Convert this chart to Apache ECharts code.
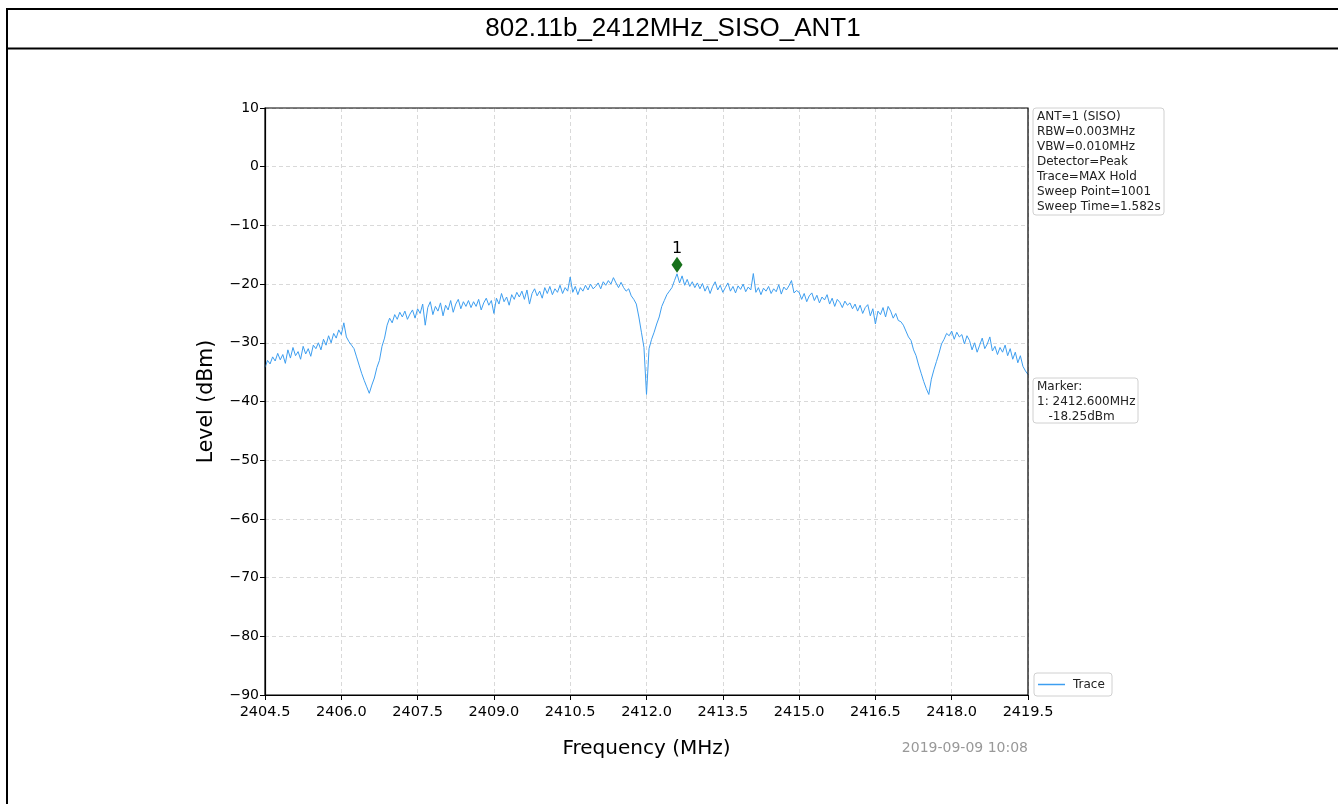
<!DOCTYPE html>
<html>
<head>
<meta charset="utf-8">
<script src="https://cdn.jsdelivr.net/npm/echarts@6/dist/echarts.min.js"></script>
<style>
html,body{margin:0;padding:0;background:#fff;}
#chart{width:1338px;height:804px;}
</style>
</head>
<body>
<div id="chart"></div>
<script>
const chartTitle = "802.11b_2412MHz_SISO_ANT1";
const freqStart = 2404.5;
const freqStep = 0.05;
// Trace levels (dBm), one row per 1 MHz (20 points)
const levels = [
 -34.2,-33.0,-33.6,-32.4,-33.1,-31.8,-32.9,-32.0,-33.5,-31.2,-32.6,-30.8,-32.2,-31.5,-32.8,-30.6,-31.9,-31.0,-32.3,-30.4,
 -31.0,-30.0,-31.2,-29.4,-30.4,-28.8,-30.0,-28.4,-29.2,-27.8,-28.6,-26.6,-29.0,-29.8,-30.4,-31.0,-32.4,-33.8,-35.2,-36.4,
 -37.5,-38.6,-37.2,-36.0,-34.2,-33.0,-30.6,-29.2,-27.0,-25.8,-26.6,-25.2,-26.0,-24.8,-25.6,-24.6,-26.0,-25.1,-24.4,-25.8,
 -24.2,-25.0,-23.4,-27.0,-24.0,-23.0,-25.2,-23.8,-24.6,-23.2,-25.4,-23.6,-24.4,-22.8,-24.8,-23.4,-22.6,-24.2,-23.0,-23.8,
 -22.8,-24.0,-23.0,-23.8,-22.6,-24.4,-23.2,-22.4,-23.6,-22.8,-25.0,-22.4,-23.4,-21.6,-23.0,-22.2,-23.6,-21.8,-22.6,-21.4,
 -22.2,-21.2,-22.6,-21.0,-23.4,-21.6,-20.8,-22.0,-21.2,-22.4,-20.6,-21.6,-20.4,-21.8,-20.8,-21.4,-20.2,-21.6,-20.6,-21.2,
 -18.8,-21.4,-20.4,-21.8,-20.6,-21.2,-20.2,-21.0,-20.0,-20.8,-20.4,-19.8,-20.8,-19.6,-20.2,-19.4,-20.0,-18.9,-19.8,-20.6,
 -19.7,-20.6,-21.2,-20.8,-22.0,-22.6,-23.4,-25.6,-28.2,-30.8,-38.8,-31.0,-29.4,-28.2,-26.8,-25.6,-23.8,-22.8,-21.8,-21.2,
 -20.6,-19.4,-18.25,-19.8,-18.6,-20.2,-19.2,-20.4,-19.6,-20.6,-19.8,-20.8,-19.9,-21.2,-20.3,-21.6,-20.4,-19.6,-21.0,-20.2,
 -21.4,-20.6,-19.8,-21.2,-20.4,-21.5,-20.3,-20.9,-20.0,-21.3,-20.5,-21.0,-18.2,-21.4,-20.6,-21.8,-20.7,-21.2,-20.4,-21.6,
 -20.8,-21.3,-20.1,-21.7,-20.5,-21.0,-20.3,-19.4,-21.5,-21.1,-21.4,-22.6,-21.6,-23.0,-22.0,-21.5,-22.8,-21.9,-23.2,-22.2,
 -22.7,-21.8,-23.4,-22.4,-23.8,-22.6,-23.1,-24.0,-22.9,-23.6,-23.2,-24.2,-23.4,-24.6,-23.6,-25.0,-24.0,-23.5,-25.4,-24.2,
 -26.8,-24.6,-25.2,-24.0,-25.6,-23.8,-24.6,-25.8,-25.0,-26.2,-26.4,-27.0,-28.0,-29.0,-29.6,-31.2,-32.2,-33.8,-35.2,-36.6,
 -37.8,-38.8,-36.2,-34.6,-33.2,-31.8,-30.2,-29.4,-28.4,-28.8,-28.0,-29.4,-28.2,-29.0,-28.6,-30.2,-28.8,-29.6,-31.2,-30.0,
 -31.6,-30.4,-29.2,-31.0,-30.2,-29.0,-31.4,-30.6,-32.0,-30.8,-31.6,-30.4,-32.2,-31.0,-32.8,-31.6,-33.4,-32.2,-34.0,-34.8,
 -35.4
];
const markerFreq = 2412.6;
const markerLevel = -18.25;
const markerLabel = "1";
const infoLines = ["ANT=1 (SISO)","RBW=0.003MHz","VBW=0.010MHz","Detector=Peak","Trace=MAX Hold","Sweep Point=1001","Sweep Time=1.582s"];
const markerLines = ["Marker:","1: 2412.600MHz","   -18.25dBm"];
const legendName = "Trace";
const timestamp = "2019-09-09 10:08";
const xAxisName = "Frequency (MHz)";
const yAxisName = "Level (dBm)";

const traceData = levels.map((v,i)=>[+(freqStart + i*freqStep).toFixed(2), v]);
const FONT = "DejaVu Sans";
const GL = 265, GT = 108, GW = 763, GH = 587;

const chart = echarts.init(document.getElementById('chart'), null, {renderer:'canvas'});
const option = {
  backgroundColor:'#ffffff',
  animation:false,
  grid:{left:GL, top:GT, width:GW, height:GH, show:false},
  xAxis:{
    type:'value', min:2404.5, max:2419.5, interval:1.5,
    axisLine:{show:true, onZero:false, lineStyle:{color:'#000', width:1.2}},
    axisTick:{show:true, inside:false, length:5, lineStyle:{color:'#000'}},
    axisLabel:{color:'#000', fontFamily:FONT, fontSize:14.5, margin:10, formatter:v=>v.toFixed(1)},
    splitLine:{show:true, lineStyle:{color:'#cfcfcf', width:0.8, type:[4,3]}},
    name:xAxisName, nameLocation:'middle', nameGap:44,
    nameTextStyle:{color:'#000', fontFamily:FONT, fontSize:20}
  },
  yAxis:{
    type:'value', min:-90, max:10, interval:10,
    axisLine:{show:true, onZero:false, lineStyle:{color:'#000', width:1.2}},
    axisTick:{show:true, inside:false, length:5, lineStyle:{color:'#000'}},
    axisLabel:{color:'#000', fontFamily:FONT, fontSize:14, margin:6, formatter:v=>String(v).replace('-','\u2212')},
    splitLine:{show:true, lineStyle:{color:'#cfcfcf', width:0.8, type:[4,3]}},
    name:yAxisName, nameLocation:'middle', nameGap:48, nameRotate:90,
    nameTextStyle:{color:'#000', fontFamily:FONT, fontSize:20.5}
  },
  series:[
    {type:'line', name:legendName, data:traceData, showSymbol:false, symbol:'none',
     lineStyle:{color:'#3d9ef0', width:1}, z:3},
    {type:'scatter', data:[[markerFreq, markerLevel]], symbol:'diamond', symbolSize:[11,16], symbolOffset:[0,-9],
     itemStyle:{color:'#16701a', opacity:1}, z:5,
     label:{show:true, formatter:markerLabel, position:'top', distance:0, color:'#000', fontFamily:FONT, fontSize:16}}
  ],
  graphic:[
    {type:'rect', z:100, silent:true, shape:{x:GL, y:GT, width:GW, height:GH}, style:{fill:null, stroke:'#000', lineWidth:1.2}},
    {type:'line', shape:{x1:6, y1:9, x2:1338, y2:9}, style:{stroke:'#000', lineWidth:2}},
    {type:'line', shape:{x1:6, y1:48.5, x2:1338, y2:48.5}, style:{stroke:'#000', lineWidth:2}},
    {type:'line', shape:{x1:7, y1:8, x2:7, y2:804}, style:{stroke:'#000', lineWidth:2}},
    {type:'text', x:673, y:29, style:{text:chartTitle, font:'26px "Liberation Sans", Arial, sans-serif', fill:'#000', textAlign:'center', textVerticalAlign:'middle'}},
    {type:'rect', shape:{x:1033, y:108, width:131, height:107, r:3}, style:{fill:'#fff', stroke:'#d0d0d0', lineWidth:1}},
    {type:'text', x:1037, y:109, style:{text:infoLines.join('\n'), font:'12px "DejaVu Sans"', lineHeight:15, fill:'#222'}},
    {type:'rect', shape:{x:1033, y:378, width:105, height:45, r:3}, style:{fill:'#fff', stroke:'#d0d0d0', lineWidth:1}},
    {type:'text', x:1037, y:379, style:{text:markerLines.join('\n'), font:'12px "DejaVu Sans"', lineHeight:15, fill:'#222', whiteSpace:'pre'}},
    {type:'rect', shape:{x:1034, y:673, width:78, height:23, r:3}, style:{fill:'#fff', stroke:'#d0d0d0', lineWidth:1}},
    {type:'line', shape:{x1:1038, y1:684.5, x2:1065, y2:684.5}, style:{stroke:'#3d9ef0', lineWidth:1.5}},
    {type:'text', x:1073, y:685, style:{text:legendName, font:'12px "DejaVu Sans"', fill:'#222', textVerticalAlign:'middle'}},
    {type:'text', x:1028, y:748, style:{text:timestamp, font:'14px "DejaVu Sans"', fill:'#999', textAlign:'right', textVerticalAlign:'middle'}}
  ]
};
chart.setOption(option);
</script>
</body>
</html>
